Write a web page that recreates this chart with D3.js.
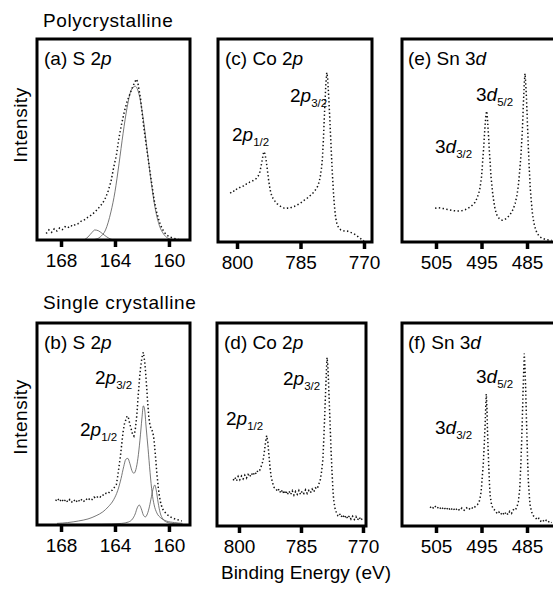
<!DOCTYPE html>
<html>
<head>
<meta charset="utf-8">
<script src="https://cdn.jsdelivr.net/npm/d3@7"></script>
<style>
body { margin: 0; background: #fff; }
svg text { font-family: "Liberation Sans", Arial, Helvetica, sans-serif; font-size: 19px; fill: #000; }
</style>
</head>
<body>
<div id="chart_area"></div>
<script>
// ---- data (binding energy in eV, intensity in % of panel height) ----

// (a) polycrystalline S 2p
var aEnergy = [169.1, 168.9, 168.7, 168.5, 168.3, 168.1, 167.9, 167.7, 167.5, 167.3, 167.1, 166.9, 166.7, 166.5, 166.3, 166.1, 165.9, 165.7, 165.5, 165.3, 165.1, 164.9, 164.7, 164.5, 164.3, 164.1, 163.9, 163.7, 163.5, 163.3, 163.1, 162.9, 162.7, 162.5, 162.4, 162.3, 162.1, 161.9, 161.7, 161.5, 161.3, 161.1, 160.9, 160.7, 160.5, 160.3, 160.1, 159.9, 159.7, 159.5, 159.3];
var aIntensity = [3.2, 5.0, 3.8, 5.6, 4.5, 6.0, 5.2, 6.6, 6.0, 7.2, 6.8, 8.0, 8.2, 9.4, 9.8, 11.0, 11.6, 12.8, 13.8, 15.3, 16.8, 18.5, 21, 24.5, 29, 36, 42, 51, 58, 64, 69, 72.5, 76, 79, 80, 78, 70, 58, 48, 38.5, 29, 20, 13.5, 8.8, 5.5, 3.5, 2.2, 1.4, 1.0, 0.6, 0.4];
var aFitMainE = [166.0, 165.5, 165.1, 164.7, 164.3, 164.0, 163.7, 163.4, 163.1, 162.8, 162.5, 162.2, 161.9, 161.6, 161.3, 161.0, 160.7, 160.4, 160.1, 159.7];
var aFitMainI = [0, 0.3, 1.5, 5, 14, 24, 38, 53, 66, 74.5, 76.5, 72, 60, 44, 28, 15, 7, 3, 1, 0.2];
var aFitSmallE = [166.3, 166.0, 165.7, 165.5, 165.2, 164.9, 164.6, 164.3, 164.0];
var aFitSmallI = [0, 1.5, 3.8, 5, 4.5, 3, 1.5, 0.4, 0];

// (b) single crystalline S 2p
var bEnergy = [168.4, 168.25, 168.1, 167.95, 167.8, 167.65, 167.5, 167.35, 167.2, 167.05, 166.9, 166.75, 166.6, 166.45, 166.3, 166.15, 166.0, 165.85, 165.7, 165.55, 165.4, 165.25, 165.1, 164.95, 164.8, 164.65, 164.5, 164.35, 164.2, 164.05, 163.9, 163.8, 163.7, 163.6, 163.5, 163.4, 163.3, 163.2, 163.1, 163.0, 162.9, 162.8, 162.7, 162.6, 162.5, 162.4, 162.3, 162.2, 162.1, 162.0, 161.9, 161.8, 161.7, 161.6, 161.5, 161.4, 161.3, 161.2, 161.1, 161.0, 160.9, 160.8, 160.7, 160.6, 160.5, 160.4, 160.25, 160.1, 159.95, 159.8, 159.65, 159.5, 159.35, 159.2, 159.05];
var bIntensity = [12.0, 13.2, 11.6, 12.9, 11.4, 12.7, 11.3, 12.6, 11.4, 12.5, 11.2, 12.6, 11.5, 12.8, 11.8, 13.0, 12.1, 13.3, 12.6, 13.8, 13.1, 14.3, 13.8, 15.0, 14.6, 15.8, 15.6, 16.8, 17.2, 18.6, 20.0, 24, 29, 34, 40, 46, 50, 52, 54, 53, 50, 47.5, 45, 44, 47, 53, 62, 71, 78, 83, 85.5, 81, 73, 63, 54, 49, 47.5, 46, 42, 34, 26, 19, 14, 10.5, 8.5, 7.0, 6.0, 5.0, 4.3, 3.6, 3.3, 2.8, 2.6, 2.2, 2.0];
var bFitMainE = [168.3, 167.5, 166.7, 166.0, 165.4, 164.9, 164.5, 164.1, 163.8, 163.55, 163.35, 163.2, 163.05, 162.9, 162.75, 162.6, 162.45, 162.3, 162.15, 162.0, 161.9, 161.8, 161.7, 161.55, 161.4, 161.25, 161.1, 160.9, 160.6, 160.2, 159.6, 159.0];
var bFitMainI = [0.8, 1.2, 2.0, 3.0, 4.6, 6.5, 9, 12.5, 17, 23, 29, 32.5, 33, 30.5, 27, 25.6, 27.5, 33, 42, 53, 59, 57, 49, 38, 26, 16, 10, 6, 3.5, 2, 1.2, 0.8];
var bFitSmallE = [168.0, 165.0, 163.5, 163.0, 162.7, 162.5, 162.35, 162.2, 162.05, 161.9, 161.75, 161.6, 161.45, 161.3, 161.15, 161.05, 160.95, 160.8, 160.65, 160.45, 160.2, 159.8, 159.2];
var bFitSmallI = [0.3, 0.4, 0.8, 1.5, 3, 5.5, 8.5, 9.9, 8, 5, 4, 5.5, 9, 14, 18.5, 19.8, 17.5, 11, 6, 3, 1.5, 0.8, 0.5];

// (c) polycrystalline Co 2p
var cEnergy = [801.6, 801.0, 800.5, 800.0, 799.5, 799.0, 798.5, 798.0, 797.5, 797.0, 796.5, 796.0, 795.5, 795.0, 794.6, 794.3, 794.0, 793.7, 793.4, 793.1, 792.8, 792.5, 792.2, 791.9, 791.5, 791.0, 790.5, 790.0, 789.5, 789.0, 788.5, 788.0, 787.5, 787.0, 786.5, 786.0, 785.5, 785.0, 784.5, 784.0, 783.5, 783.0, 782.5, 782.0, 781.5, 781.0, 780.6, 780.3, 780.0, 779.8, 779.6, 779.4, 779.2, 779.0, 778.8, 778.6, 778.4, 778.2, 778.0, 777.8, 777.6, 777.4, 777.2, 777.0, 776.7, 776.4, 776.0, 775.5, 775.0, 774.5, 774.0, 773.5, 773.0, 772.5, 772.0, 771.5, 771.0, 770.5, 770.0];
var cIntensity = [24.0, 25.2, 25.0, 26.3, 26.6, 27.4, 27.6, 28.5, 28.6, 29.5, 29.8, 30.6, 31.2, 32.5, 34.5, 37.5, 41, 44.5, 43.5, 40, 35, 30, 26, 23.5, 21.5, 20, 18.8, 18, 17.2, 16.8, 16.5, 16.7, 16.6, 17.2, 17.5, 18.0, 18.6, 19.2, 19.9, 20.8, 21.4, 22.4, 23.2, 24.3, 25.6, 27.2, 29.5, 32.5, 37, 42, 50, 60, 70, 78, 83.5, 81, 74, 66, 57, 48, 39, 31, 24, 18, 12, 9, 7, 6, 5.6, 5.3, 5.4, 5.0, 4.6, 4.2, 3.6, 2.8, 2.0, 1.2, 0.6];

// (d) single crystalline Co 2p
var dEnergy = [801.4, 801.0, 800.6, 800.2, 799.8, 799.4, 799.0, 798.6, 798.2, 797.8, 797.4, 797.0, 796.6, 796.2, 795.8, 795.4, 795.0, 794.6, 794.2, 793.9, 793.6, 793.3, 793.0, 792.8, 792.5, 792.2, 791.9, 791.5, 791.1, 790.7, 790.3, 789.9, 789.5, 789.1, 788.7, 788.3, 787.9, 787.5, 787.1, 786.7, 786.3, 785.9, 785.5, 785.1, 784.7, 784.3, 783.9, 783.5, 783.1, 782.7, 782.3, 781.9, 781.5, 781.1, 780.7, 780.3, 780.0, 779.7, 779.5, 779.3, 779.1, 778.9, 778.7, 778.5, 778.3, 778.1, 777.9, 777.7, 777.5, 777.3, 777.1, 776.8, 776.5, 776.1, 775.7, 775.3, 774.9, 774.5, 774.1, 773.7, 773.3, 772.9, 772.5, 772.1, 771.7, 771.3, 770.9, 770.5, 770.1];
var dIntensity = [22.5, 24.0, 22.2, 24.4, 22.8, 24.6, 23.2, 25.0, 23.6, 25.4, 24.2, 26.0, 24.8, 26.6, 25.6, 27.6, 27.4, 29.5, 32, 36, 41, 44.5, 41, 36, 29, 24, 21.5, 19.0, 18.5, 17.0, 18.2, 16.2, 17.8, 15.8, 17.5, 15.4, 17.2, 15.5, 17.4, 15.2, 17.0, 15.6, 17.5, 15.5, 17.2, 16.0, 17.8, 16.0, 17.5, 16.4, 18.2, 16.8, 18.8, 18.2, 20.5, 23, 27, 33, 42, 52, 63, 74, 83, 79, 69, 58, 47, 36, 27, 19, 13, 9, 7, 5.2, 6.2, 4.4, 5.6, 3.9, 5.2, 3.6, 5.0, 3.4, 4.8, 3.2, 4.6, 3.0, 4.4, 2.8, 4.0];

// (e) polycrystalline Sn 3d
var eEnergy = [505.2, 504.6, 504.0, 503.4, 502.8, 502.2, 501.6, 501.0, 500.4, 499.8, 499.2, 498.6, 498.0, 497.4, 496.9, 496.4, 496.0, 495.6, 495.3, 495.0, 494.8, 494.6, 494.4, 494.2, 494.0, 493.85, 493.7, 493.5, 493.3, 493.1, 492.9, 492.6, 492.3, 492.0, 491.6, 491.2, 490.8, 490.4, 490.0, 489.6, 489.2, 488.8, 488.4, 488.0, 487.6, 487.2, 486.9, 486.6, 486.3, 486.0, 485.8, 485.6, 485.45, 485.3, 485.1, 484.9, 484.7, 484.5, 484.3, 484.1, 483.8, 483.5, 483.1, 482.7, 482.2, 481.7, 481.0, 480.3, 479.6];
var eIntensity = [16.6, 16.9, 16.7, 16.5, 16.2, 15.9, 15.6, 15.4, 15.3, 15.3, 15.5, 15.9, 16.6, 17.4, 18.4, 19.6, 21.5, 24, 27, 32, 38, 44, 51, 58, 63, 64.5, 61, 54, 46, 39, 32, 25, 20, 16, 13.2, 11.8, 11.0, 10.7, 10.9, 11.5, 12.3, 13.3, 14.6, 16.4, 19.0, 23, 28, 35, 44, 56, 68, 78, 83, 79, 70, 58, 46, 36, 27, 21, 14, 9.5, 6, 4, 2.6, 1.9, 1.3, 1.0, 0.9];

// (f) single crystalline Sn 3d
var fEnergy = [506.3, 505.8, 505.3, 504.8, 504.3, 503.8, 503.3, 502.8, 502.3, 501.8, 501.3, 500.8, 500.3, 499.8, 499.3, 498.8, 498.3, 497.8, 497.3, 496.8, 496.3, 495.9, 495.5, 495.2, 495.0, 494.8, 494.6, 494.4, 494.2, 494.05, 493.95, 493.8, 493.7, 493.55, 493.4, 493.25, 493.1, 492.8, 492.4, 492.0, 491.6, 491.2, 490.8, 490.4, 490.0, 489.6, 489.2, 488.8, 488.4, 488.0, 487.6, 487.2, 486.9, 486.6, 486.4, 486.2, 486.0, 485.85, 485.7, 485.6, 485.45, 485.3, 485.15, 485.0, 484.85, 484.7, 484.5, 484.3, 484.0, 483.6, 483.2, 482.8, 482.4, 482.0, 481.6, 481.2, 480.8, 480.4, 480.0, 479.6];
var fIntensity = [9.5, 8.4, 10.0, 8.6, 9.6, 8.0, 9.4, 7.8, 9.2, 7.6, 9.0, 7.5, 8.8, 7.6, 8.9, 7.8, 9.0, 8.0, 9.3, 8.5, 9.8, 10.5, 12, 15, 19, 25, 31, 40, 50, 60, 65, 58, 48, 38, 29, 21, 15, 10.5, 8.2, 7.8, 6.2, 7.0, 5.6, 6.8, 5.4, 6.9, 5.6, 7.2, 6.2, 8.0, 7.6, 9.5, 12, 18, 28, 40, 55, 68, 78, 85, 78, 68, 55, 43, 31, 22, 15, 10, 7, 5, 4.4, 3.0, 3.8, 2.4, 3.2, 2.0, 2.8, 1.8, 2.4, 1.6];

// tick labels
var sTicks = [168, 164, 160];
var coTicks = [800, 785, 770];
var snTicks = [505, 495, 485];

// text
var rowTitles = ["Polycrystalline", "Single crystalline"];
var panelTitles = [["(a) S 2", "p"], ["(b) S 2", "p"], ["(c) Co 2", "p"], ["(d) Co 2", "p"], ["(e) Sn 3", "d"], ["(f) Sn 3", "d"]];
var coLabels = [["2", "p", "1/2"], ["2", "p", "3/2"]];
var sLabels = [["2", "p", "1/2"], ["2", "p", "3/2"]];
var snLabels = [["3", "d", "3/2"], ["3", "d", "5/2"]];

// ---- layout ----
var frame_width = 553, frame_height = 589;
var svg = d3.select("#chart_area").append("svg")
    .attr("width", frame_width)
    .attr("height", frame_height);

var panels = [
  {E: aEnergy, I: aIntensity, fits: [[aFitMainE, aFitMainI], [aFitSmallE, aFitSmallI]], box: [37, 190, 39, 240], dom: [169.78, 158.44], ticks: sTicks, title: panelTitles[0], tx: 44, labels: []},
  {E: bEnergy, I: bIntensity, fits: [[bFitMainE, bFitMainI], [bFitSmallE, bFitSmallI]], box: [37, 190, 323, 525], dom: [169.78, 158.44], ticks: sTicks, title: panelTitles[1], tx: 44,
    labels: [{t: sLabels[0], x: 80, y: 436}, {t: sLabels[1], x: 95, y: 384}]},
  {E: cEnergy, I: cIntensity, fits: [], box: [218, 372, 39, 242], dom: [804.49, 768.11], ticks: coTicks, title: panelTitles[2], tx: 225,
    labels: [{t: coLabels[0], x: 232, y: 141}, {t: coLabels[1], x: 290, y: 102}]},
  {E: dEnergy, I: dIntensity, fits: [], box: [217, 366, 323, 526], dom: [805.32, 769.27], ticks: coTicks, title: panelTitles[3], tx: 224,
    labels: [{t: coLabels[0], x: 226, y: 425}, {t: coLabels[1], x: 283, y: 385}]},
  {E: eEnergy, I: eIntensity, fits: [], box: [402, 557, 39, 242], dom: [512.47, 478.41], ticks: snTicks, title: panelTitles[4], tx: 408,
    labels: [{t: snLabels[0], x: 435, y: 153}, {t: snLabels[1], x: 476, y: 101}]},
  {E: fEnergy, I: fIntensity, fits: [], box: [402, 557, 323, 526], dom: [512.47, 478.41], ticks: snTicks, title: panelTitles[5], tx: 408,
    labels: [{t: snLabels[0], x: 435, y: 434}, {t: snLabels[1], x: 476, y: 383}]}
];

panels.forEach(function(p) {
  var x0 = p.box[0], x1 = p.box[1], y0 = p.box[2], y1 = p.box[3];
  var xScale = d3.scaleLinear().domain(p.dom).range([x0, x1]);
  var yScale = d3.scaleLinear().domain([0, 100]).range([y1, y0]);
  var g = svg.append("g");

  // fitted components
  p.fits.forEach(function(f) {
    var pts = f[0].map(function(e, i) { return [e, f[1][i]]; });
    g.append("path")
      .attr("d", d3.line().curve(d3.curveMonotoneX)
        .x(function(d) { return xScale(d[0]); })
        .y(function(d) { return yScale(d[1]); })(pts.slice().reverse()))
      .attr("fill", "none")
      .attr("stroke", "#555")
      .attr("stroke-width", 0.8);
  });

  // measured spectrum, drawn as dots
  var data = p.E.map(function(e, i) { return [e, p.I[i]]; });
  g.append("path")
    .attr("d", d3.line()
      .x(function(d) { return xScale(d[0]); })
      .y(function(d) { return yScale(d[1]); })(data))
    .attr("fill", "none")
    .attr("stroke", "#111")
    .attr("stroke-width", 1.5)
    .attr("stroke-dasharray", "1.4,2.4");

  // frame
  g.append("rect")
    .attr("x", x0).attr("y", y0)
    .attr("width", x1 - x0).attr("height", y1 - y0)
    .attr("fill", "none")
    .attr("stroke", "#000")
    .attr("stroke-width", 3);

  // x axis ticks
  var axis = g.append("g")
    .attr("transform", "translate(0," + (y1 + 1) + ")")
    .call(d3.axisBottom(xScale).tickValues(p.ticks).tickSize(6).tickPadding(7).tickFormat(d3.format("d")));
  axis.select(".domain").remove();
  axis.selectAll(".tick line").attr("stroke", "#000").attr("stroke-width", 3.5);
  axis.selectAll(".tick text")
    .attr("font-family", null).attr("font-size", null)
    .style("font-size", "19px");

  // panel title
  var t = g.append("text").attr("x", p.tx).attr("y", y0 + 26);
  t.append("tspan").text(p.title[0]);
  t.append("tspan").attr("font-style", "italic").text(p.title[1]);

  // peak labels
  p.labels.forEach(function(l) {
    var lt = g.append("text").attr("x", l.x).attr("y", l.y);
    lt.append("tspan").text(l.t[0]);
    lt.append("tspan").attr("font-style", "italic").text(l.t[1]);
    lt.append("tspan").attr("dy", 5).style("font-size", "11.5px").text(l.t[2]);
  });
});

// row titles
svg.append("text").attr("x", 43).attr("y", 27).style("letter-spacing", "0.6px").text(rowTitles[0]);
svg.append("text").attr("x", 43).attr("y", 309).style("letter-spacing", "0.6px").text(rowTitles[1]);

// y axis labels
[125, 417].forEach(function(cy) {
  svg.append("text")
    .attr("transform", "translate(27," + cy + ") rotate(-90)")
    .attr("text-anchor", "middle")
    .style("letter-spacing", "0.5px")
    .text("Intensity");
});

// x axis label
svg.append("text")
  .attr("x", 306).attr("y", 579)
  .attr("text-anchor", "middle")
  .text("Binding Energy (eV)");
</script>
</body>
</html>
